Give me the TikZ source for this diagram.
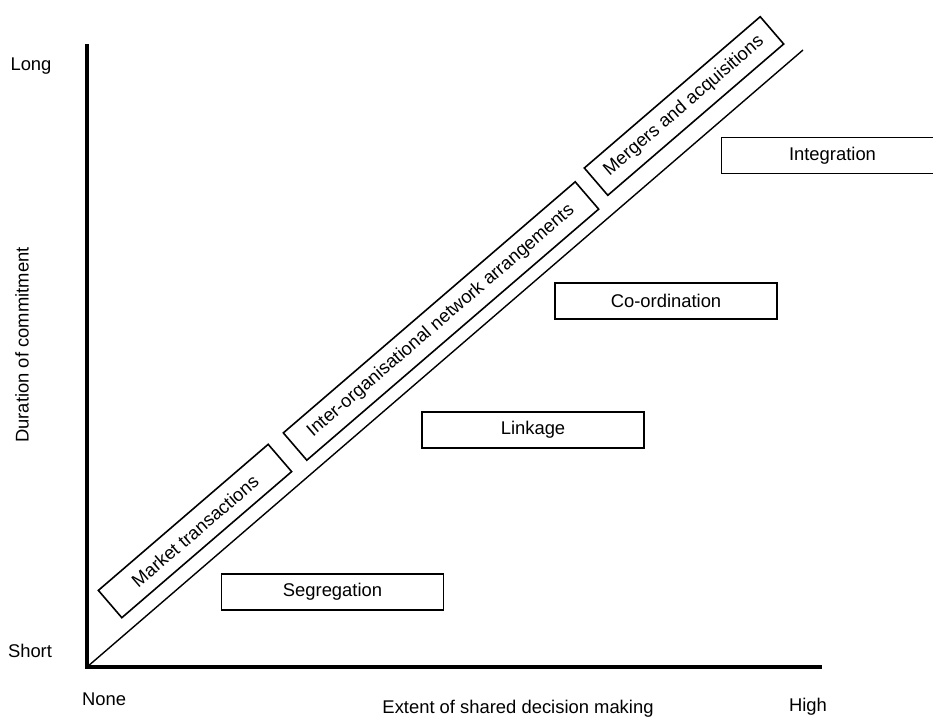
\documentclass[tikz,border=0pt]{standalone}
\usepackage{fontspec}
\setmainfont{Liberation Sans}
\usetikzlibrary{positioning}
\tikzset{box/.style = {draw, line width = 1.6, minimum width = 222, minimum height = 36, inner sep = 0, font = \fontsize{18.4}{22}\selectfont}}
\tikzset{slant/.style = {box, rotate = 40.7}}
\tikzset{lbl/.style = {inner sep = 0, font = \fontsize{18.4}{22}\selectfont}}

\begin{document}
\begin{tikzpicture}[x = 1pt, y = -1pt]

    \fill [white] (0, 0) rectangle (933, 718);
    \useasboundingbox (0, 0) rectangle (933, 718);

    \coordinate (o) at (87, 667);
    \coordinate (top) at (87, 44);
    \coordinate (right) at (822, 667);
    \coordinate (diag) at (803, 50);

    \draw [line width = 3.2] (top) -- (o) -- (right);
    \draw [line width = 1.4] (o) -- (diag);

    \node [slant, minimum width = 224] (market) at (195, 531) {Market transactions};
    \node [slant, minimum width = 385] (inter) at (441, 321) {Inter-organisational network arrangements};
    \node [slant, minimum width = 232] (mergers) at (684, 106) {Mergers and acquisitions};

    \node [box] (seg) at (332.5, 592) {Segregation};
    \node [box] (link) at (533, 430) {Linkage};
    \node [box] (coord) at (666, 301) {Co-ordination};
    \node [box] (integ) at (832.5, 155.3) {Integration};

    \node [lbl] (long) at (31, 66) {Long};
    \node [lbl] (short) at (30, 651) {Short};
    \node [lbl] (none) at (104, 699) {None};
    \node [lbl] (high) at (808, 707) {High};
    \node [lbl] (xlabel) at (518, 709) {Extent of shared decision making};
    \node [lbl, rotate = 90] (ylabel) at (22, 345) {Duration of commitment};
  \end{tikzpicture}
\end{document}
